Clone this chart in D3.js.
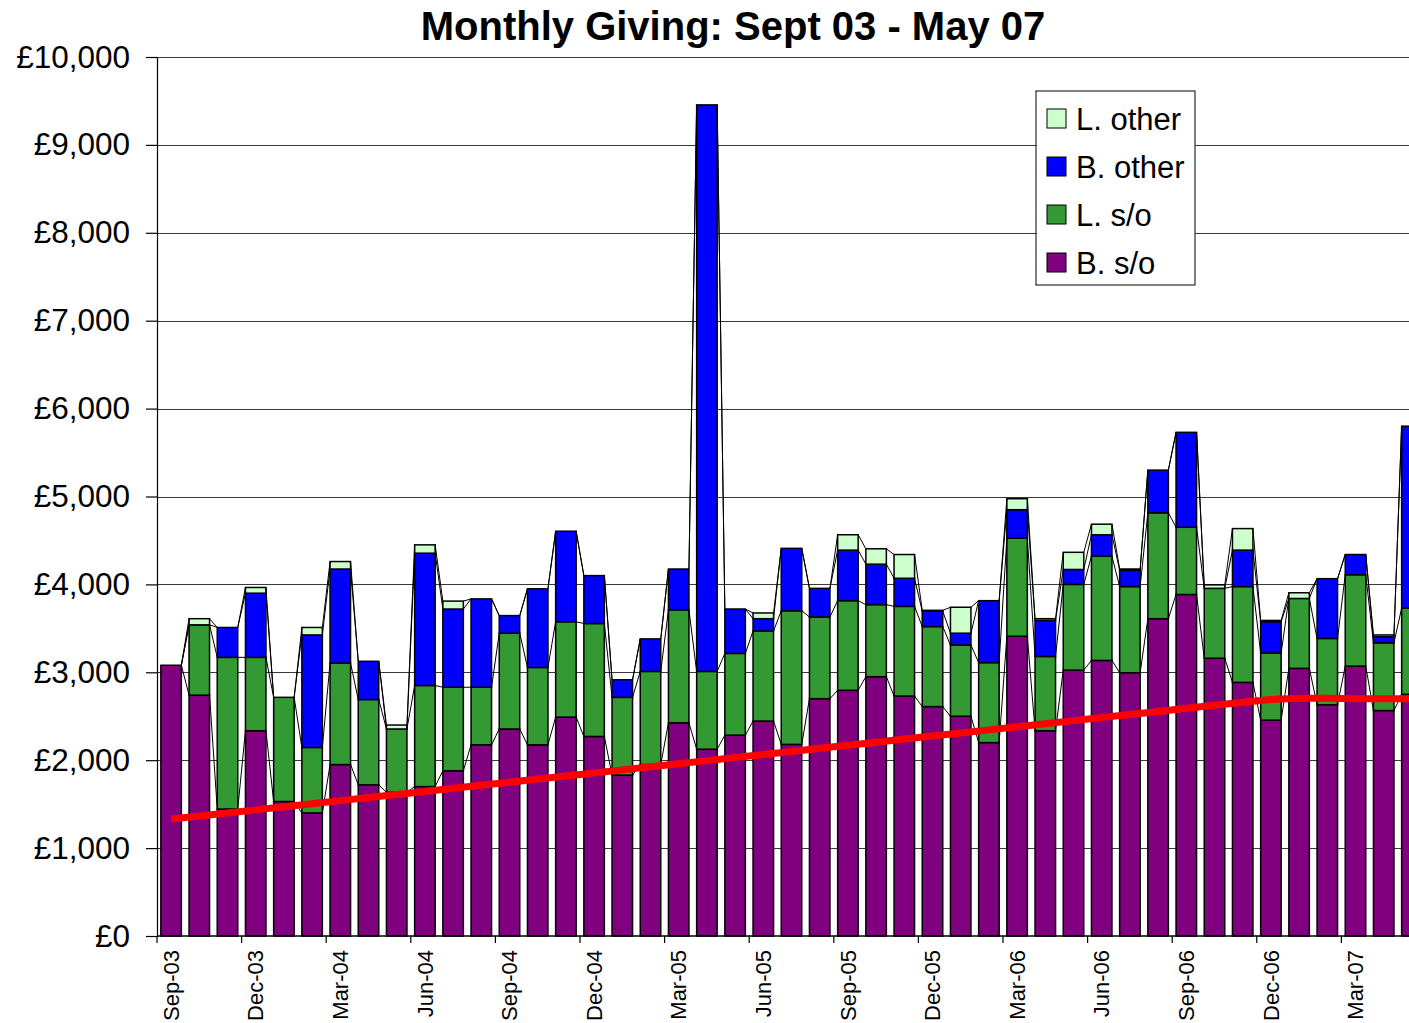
<!DOCTYPE html>
<html>
<head>
<meta charset="utf-8">
<script src="https://cdn.jsdelivr.net/npm/d3@7"></script>
<style>
  body { margin: 0; background: #fff; }
  svg { display: block; font-family: "Liberation Sans", Arial, sans-serif; }
</style>
</head>
<body>
<svg class="chart" width="1409" height="1023"></svg>
<script>
const months = [
  "Sep-03", "Oct-03", "Nov-03", "Dec-03",
  "Jan-04", "Feb-04", "Mar-04", "Apr-04", "May-04", "Jun-04", "Jul-04", "Aug-04", "Sep-04", "Oct-04", "Nov-04", "Dec-04",
  "Jan-05", "Feb-05", "Mar-05", "Apr-05", "May-05", "Jun-05", "Jul-05", "Aug-05", "Sep-05", "Oct-05", "Nov-05", "Dec-05",
  "Jan-06", "Feb-06", "Mar-06", "Apr-06", "May-06", "Jun-06", "Jul-06", "Aug-06", "Sep-06", "Oct-06", "Nov-06", "Dec-06",
  "Jan-07", "Feb-07", "Mar-07", "Apr-07", "May-07"
]

// B. s/o (bottom of each stack)
const bSo = [
  3080, 2740, 1445, 2335,
  1530, 1400, 1950, 1720, 1635, 1700, 1880, 2175, 2355, 2175, 2490, 2270,
  1830, 1950, 2425, 2125, 2285, 2445, 2180, 2700, 2795, 2950, 2730, 2610,
  2500, 2200, 3410, 2335, 3025, 3135, 2995, 3610, 3885, 3160, 2885, 2455,
  3045, 2630, 3070, 2565, 2750
]

// L. s/o
const lSo = [
  0, 800, 1725, 835,
  1185, 745, 1155, 970, 720, 1150, 950, 655, 1090, 880, 1085, 1285,
  885, 1060, 1285, 885, 930, 1025, 1520, 930, 1020, 820, 1020, 910,
  810, 910, 1115, 845, 975, 1185, 980, 1205, 765, 795, 1090, 765,
  795, 755, 1040, 770, 980
]

// B. other
const bOther = [
  0, 0, 340, 730,
  0, 1280, 1070, 435, 0, 1505, 890, 1005, 200, 895, 1030, 545,
  200, 370, 465, 6445, 505, 140, 710, 325, 575, 460, 320, 175,
  135, 705, 325, 410, 170, 245, 185, 485, 1080, 0, 415, 355,
  0, 680, 230, 70, 2070
]

// L. other (top of each stack)
const lOther = [
  0, 70, 0, 65,
  0, 85, 85, 0, 45, 95, 90, 0, 0, 0, 0, 0,
  0, 0, 0, 0, 0, 65, 0, 0, 175, 175, 270, 10,
  295, 0, 125, 20, 195, 120, 15, 0, 0, 40, 245, 15,
  65, 0, 0, 20, 0
]

// red trend line
const trend = [
  1330, 1365, 1400, 1435,
  1470, 1505, 1540, 1575, 1610, 1645, 1680, 1715, 1750, 1785, 1820, 1855,
  1890, 1925, 1960, 1995, 2030, 2065, 2100, 2135, 2170, 2205, 2240, 2275,
  2310, 2345, 2380, 2415, 2450, 2485, 2520, 2555, 2590, 2625, 2660, 2690,
  2705, 2705, 2700, 2700, 2700
]

const seriesKeys = ["bSo", "lSo", "bOther", "lOther"]
const seriesNames = ["B. s/o", "L. s/o", "B. other", "L. other"]
const seriesColors = ["#800080", "#339933", "#0000ff", "#ccffcc"]

const yTicks = [0, 1000, 2000, 3000, 4000, 5000, 6000, 7000, 8000, 9000, 10000]
const xTickLabels = months.filter((m, i) => i % 3 === 0)

const rows = months.map((m, i) => ({
  month: m, bSo: bSo[i], lSo: lSo[i], bOther: bOther[i], lOther: lOther[i]
}))

const svg = d3.select('svg.chart')
const plotLeft = 157, plotTop = 57, plotBottom = 936
const step = 28.2
const plotRight = plotLeft + months.length * step   // runs past the window edge

const x = d3.scaleBand()
  .domain(months)
  .range([plotLeft, plotRight])
  .paddingInner(0.273)
  .paddingOuter(0.1365)

const y = d3.scaleLinear().domain([0, 10000]).range([plotBottom, plotTop])

// title
svg.append('text')
  .attr('x', 733)
  .attr('y', 40)
  .attr('text-anchor', 'middle')
  .style('font-size', '40px')
  .style('font-weight', 'bold')
  .text('Monthly Giving: Sept 03 - May 07')

// gridlines
svg.append('g')
  .selectAll('line')
  .data(yTicks.filter(d => d > 0))
  .enter()
  .append('line')
  .attr('x1', plotLeft)
  .attr('x2', plotRight)
  .attr('y1', d => Math.round(y(d)) + 0.5)
  .attr('y2', d => Math.round(y(d)) + 0.5)
  .style('stroke', '#3a3a3a')
  .style('stroke-width', 1.2)

// stacked bars
const stacked = d3.stack().keys(seriesKeys)(rows)

svg.append('g')
  .selectAll('g')
  .data(stacked)
  .enter()
  .append('g')
  .style('fill', (d, i) => seriesColors[i])
  .selectAll('rect')
  .data(d => d.filter(p => p[1] - p[0] > 0))
  .enter()
  .append('rect')
  .attr('x', d => x(d.data.month))
  .attr('width', x.bandwidth())
  .attr('y', d => y(d[1]))
  .attr('height', d => y(d[0]) - y(d[1]))
  .style('stroke', '#000')
  .style('stroke-width', 1.5)

// series lines joining the top of each segment to the next bar
const seriesLines = []
stacked.forEach(s => {
  for (let i = 0; i < s.length - 1; i++) {
    seriesLines.push({ a: s[i], b: s[i + 1] })
  }
})

svg.append('g')
  .selectAll('line')
  .data(seriesLines)
  .enter()
  .append('line')
  .attr('x1', d => x(d.a.data.month) + x.bandwidth())
  .attr('y1', d => y(d.a[1]))
  .attr('x2', d => x(d.b.data.month))
  .attr('y2', d => y(d.b[1]))
  .style('stroke', '#000')
  .style('stroke-width', 1)

// trend line
const line = d3.line()
  .x((d, i) => x(months[i]) + x.bandwidth() / 2)
  .y(d => y(d))

svg.append('path')
  .datum(trend)
  .attr('d', line)
  .style('fill', 'none')
  .style('stroke', '#ff0000')
  .style('stroke-width', 7)
  .style('stroke-linejoin', 'round')

// y axis
const yAxis = svg.append('g')
  .attr('transform', `translate(${plotLeft},0)`)
  .call(d3.axisLeft(y)
    .tickValues(yTicks)
    .tickSize(11)
    .tickPadding(16)
    .tickFormat(d => '£' + d3.format(',')(d)))

yAxis.attr('font-family', null).attr('font-size', null)
yAxis.select('.domain').style('stroke', '#000').style('stroke-width', 1.2)
yAxis.selectAll('.tick line').style('stroke', '#000').style('stroke-width', 1.2)
yAxis.selectAll('text')
  .style('font-size', '31.5px')
  .style('fill', '#000')

// x axis
svg.append('line')
  .attr('x1', plotLeft)
  .attr('x2', plotRight)
  .attr('y1', plotBottom)
  .attr('y2', plotBottom)
  .style('stroke', '#000')
  .style('stroke-width', 1.5)

svg.append('g')
  .selectAll('line')
  .data(xTickLabels)
  .enter()
  .append('line')
  .attr('x1', d => x(d) - (x.step() - x.bandwidth()) / 2)
  .attr('x2', d => x(d) - (x.step() - x.bandwidth()) / 2)
  .attr('y1', plotBottom)
  .attr('y2', plotBottom + 7)
  .style('stroke', '#000')
  .style('stroke-width', 1.2)

svg.append('g')
  .selectAll('text')
  .data(xTickLabels)
  .enter()
  .append('text')
  .attr('transform', d => `translate(${x(d) + x.bandwidth() / 2},950) rotate(-90)`)
  .attr('dy', '0.35em')
  .attr('text-anchor', 'end')
  .style('font-size', '22px')
  .text(d => d)

// legend
const legend = svg.append('g').attr('transform', 'translate(1036,91)')

legend.append('rect')
  .attr('width', 159)
  .attr('height', 194)
  .style('fill', '#fff')
  .style('stroke', '#000')
  .style('stroke-width', 1)

const legendOrder = [3, 2, 1, 0]

const item = legend.selectAll('.item')
  .data(legendOrder)
  .enter()
  .append('g')
  .attr('transform', (d, i) => `translate(0,${27.5 + i * 48})`)

item.append('rect')
  .attr('x', 11)
  .attr('y', -9.5)
  .attr('width', 19)
  .attr('height', 19)
  .style('fill', d => seriesColors[d])
  .style('stroke', '#000')
  .style('stroke-width', 1)

item.append('text')
  .attr('x', 40)
  .attr('dy', '0.36em')
  .style('font-size', '31px')
  .text(d => seriesNames[d])
</script>
</body>
</html>
